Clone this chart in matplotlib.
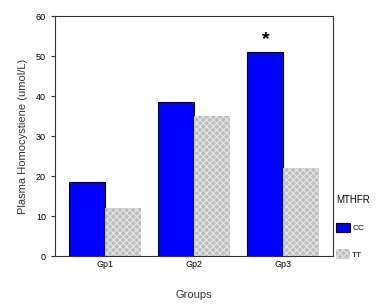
import numpy as np
import matplotlib.pyplot as plt
from matplotlib.patches import Patch

plt.rcParams['font.family'] = ['Liberation Sans', 'DejaVu Sans']
plt.rcParams['hatch.linewidth'] = 0.8

groups = ["Gp1", "Gp2", "Gp3"]
cc_values = [18.5, 38.5, 51.0]
tt_values = [12.0, 35.0, 22.0]
star_group = 2

x = np.arange(len(groups))
width = 0.4

fig = plt.figure(figsize=(3.84, 3.07), dpi=100)
ax = fig.add_axes([55 / 384, 51 / 307, 278 / 384, 240 / 307])

ax.bar(x - width / 2, cc_values, width, color="#0000ff", edgecolor="black", linewidth=0.8)
ax.bar(x + width / 2, tt_values, width, color="#bdbdbd", edgecolor="#e4e4e4",
       hatch="xxxxx", linewidth=0)

ax.text(x[star_group] - width / 2, cc_values[star_group] + 1.0, "*",
        ha="center", va="bottom", fontsize=14, fontweight="bold")

ax.set_xlim(-0.56, 2.56)
ax.set_ylim(0, 60)
ax.set_yticks(range(0, 61, 10))
ax.set_xticks(x)
ax.set_xticklabels(groups)
ax.tick_params(axis="both", labelsize=6.5, length=3, width=0.8, colors="#333333",
               labelcolor="black")
ax.tick_params(axis="x", length=0, pad=3)
for s in ax.spines.values():
    s.set_linewidth(0.8)
    s.set_color("#333333")

ax.set_ylabel("Plasma Homocystiene (umol/L)", fontsize=8, color="#333333", labelpad=6)
ax.set_xlabel("Groups", fontsize=8, color="#333333", labelpad=15)

handles = [Patch(facecolor="#0000ff", edgecolor="black", linewidth=0.8),
           Patch(facecolor="#bdbdbd", edgecolor="#e4e4e4", hatch="xxxxx", linewidth=0)]
leg = ax.legend(handles, ["CC", "TT"], title="MTHFR", loc="upper left",
                bbox_to_anchor=(1.0, 0.27), frameon=False, fontsize=6,
                title_fontsize=7, handlelength=1.6, handleheight=1.3,
                labelspacing=2.1, handletextpad=0.3, borderaxespad=0.0)
leg._legend_box.align = "left"
leg._legend_box.sep = 13

fig.savefig("out.png", dpi=100)
